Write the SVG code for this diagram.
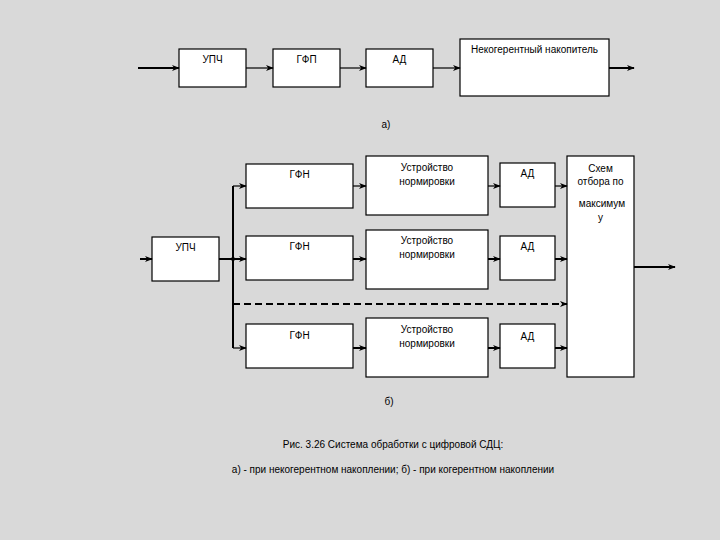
<svg xmlns="http://www.w3.org/2000/svg" width="720" height="540" viewBox="0 0 720 540">
<style>
.box{fill:#fff;stroke:#000;stroke-width:1.2}
.t{font-family:"Liberation Sans",Arial,sans-serif;font-size:10px;fill:#000;text-anchor:middle}
.c{fill:none;stroke:#000;stroke-width:1.2}
.k{fill:none;stroke:#000;stroke-width:2}
</style>
<defs>
<marker id="a" viewBox="0 0 10 10" refX="9" refY="5" markerWidth="8" markerHeight="8" markerUnits="userSpaceOnUse" orient="auto">
<path d="M0,1 L10,5 L0,9 L3,5 Z" fill="#000"/>
</marker>
</defs>
<rect width="720" height="540" fill="#d9d9d9"/>
<g id="top-upch"><rect class="box" x="179" y="49" width="67" height="38"/><text class="t" x="212.5" y="63">УПЧ</text></g>
<g id="top-gfp"><rect class="box" x="273" y="49" width="67" height="38"/><text class="t" x="306.5" y="63">ГФП</text></g>
<g id="top-ad"><rect class="box" x="366" y="49" width="67" height="38"/><text class="t" x="399.5" y="63">АД</text></g>
<g id="top-nak"><rect class="box" x="460" y="39" width="149" height="57"/><text class="t" x="534.5" y="53">Некогерентный накопитель</text></g>
<text class="t" x="386" y="128">а)</text>
<g id="b-upch"><rect class="box" x="152" y="237" width="67" height="44"/><text class="t" x="185.5" y="251">УПЧ</text></g>
<g id="gfn1"><rect class="box" x="246" y="164" width="107" height="44"/><text class="t" x="299.5" y="178">ГФН</text></g>
<g id="gfn2"><rect class="box" x="246" y="236" width="107" height="44"/><text class="t" x="299.5" y="250">ГФН</text></g>
<g id="gfn3"><rect class="box" x="246" y="324" width="107" height="44"/><text class="t" x="299.5" y="339">ГФН</text></g>
<g id="norm1"><rect class="box" x="366" y="156" width="122" height="59"/><text class="t" x="427" y="171">Устройство</text><text class="t" x="427" y="185">нормировки</text></g>
<g id="norm2"><rect class="box" x="366" y="230" width="122" height="59"/><text class="t" x="427" y="244">Устройство</text><text class="t" x="427" y="258">нормировки</text></g>
<g id="norm3"><rect class="box" x="366" y="318" width="122" height="59"/><text class="t" x="427" y="333">Устройство</text><text class="t" x="427" y="347">нормировки</text></g>
<g id="ad1"><rect class="box" x="500" y="163" width="55" height="44"/><text class="t" x="527.5" y="177">АД</text></g>
<g id="ad2"><rect class="box" x="500" y="236" width="55" height="44"/><text class="t" x="527.5" y="250">АД</text></g>
<g id="ad3"><rect class="box" x="500" y="324" width="55" height="44"/><text class="t" x="527.5" y="340">АД</text></g>
<g id="sel"><rect class="box" x="567" y="156" width="67" height="221"/><text class="t" x="600.5" y="172">Схем</text><text class="t" x="600.5" y="185">отбора по</text><text class="t" x="602" y="207">максимум</text><text class="t" x="600.5" y="221">у</text></g>
<text class="t" x="389" y="405">б)</text>
<text class="t" x="393" y="448">Рис. 3.26 Система обработки с цифровой СДЦ:</text>
<text class="t" x="393" y="473">а) - при некогерентном накоплении; б) - при когерентном накоплении</text>
<g id="connectors">
<path class="k" d="M138,68 H179" marker-end="url(#a)"/>
<path class="c" d="M246,68 H273" marker-end="url(#a)"/>
<path class="c" d="M340,68 H366" marker-end="url(#a)"/>
<path class="c" d="M433,68 H460" marker-end="url(#a)"/>
<path class="k" d="M609,68 H634" marker-end="url(#a)"/>
<path class="k" d="M140,259 H152" marker-end="url(#a)"/>
<path class="k" d="M219,259 H246" marker-end="url(#a)"/>
<path class="k" d="M233,186 V348"/>
<circle cx="233" cy="259" r="2" fill="#000"/>
<path class="c" d="M233,186 H246" marker-end="url(#a)"/>
<path class="c" d="M233,348 H246" marker-end="url(#a)"/>
<path class="k" stroke-dasharray="7,4" d="M233,304 H567" marker-end="url(#a)"/>
<path class="c" d="M353,186 H366" marker-end="url(#a)"/>
<path class="c" d="M488,186 H500" marker-end="url(#a)"/>
<path class="c" d="M555,186 H567" marker-end="url(#a)"/>
<path class="k" d="M353,259 H366" marker-end="url(#a)"/>
<path class="k" d="M488,259 H500" marker-end="url(#a)"/>
<path class="k" d="M555,259 H567" marker-end="url(#a)"/>
<path class="k" d="M353,348 H366" marker-end="url(#a)"/>
<path class="k" d="M488,348 H500" marker-end="url(#a)"/>
<path class="k" d="M555,348 H567" marker-end="url(#a)"/>
<path class="k" d="M634,267 H675" marker-end="url(#a)"/>
</g>
</svg>
